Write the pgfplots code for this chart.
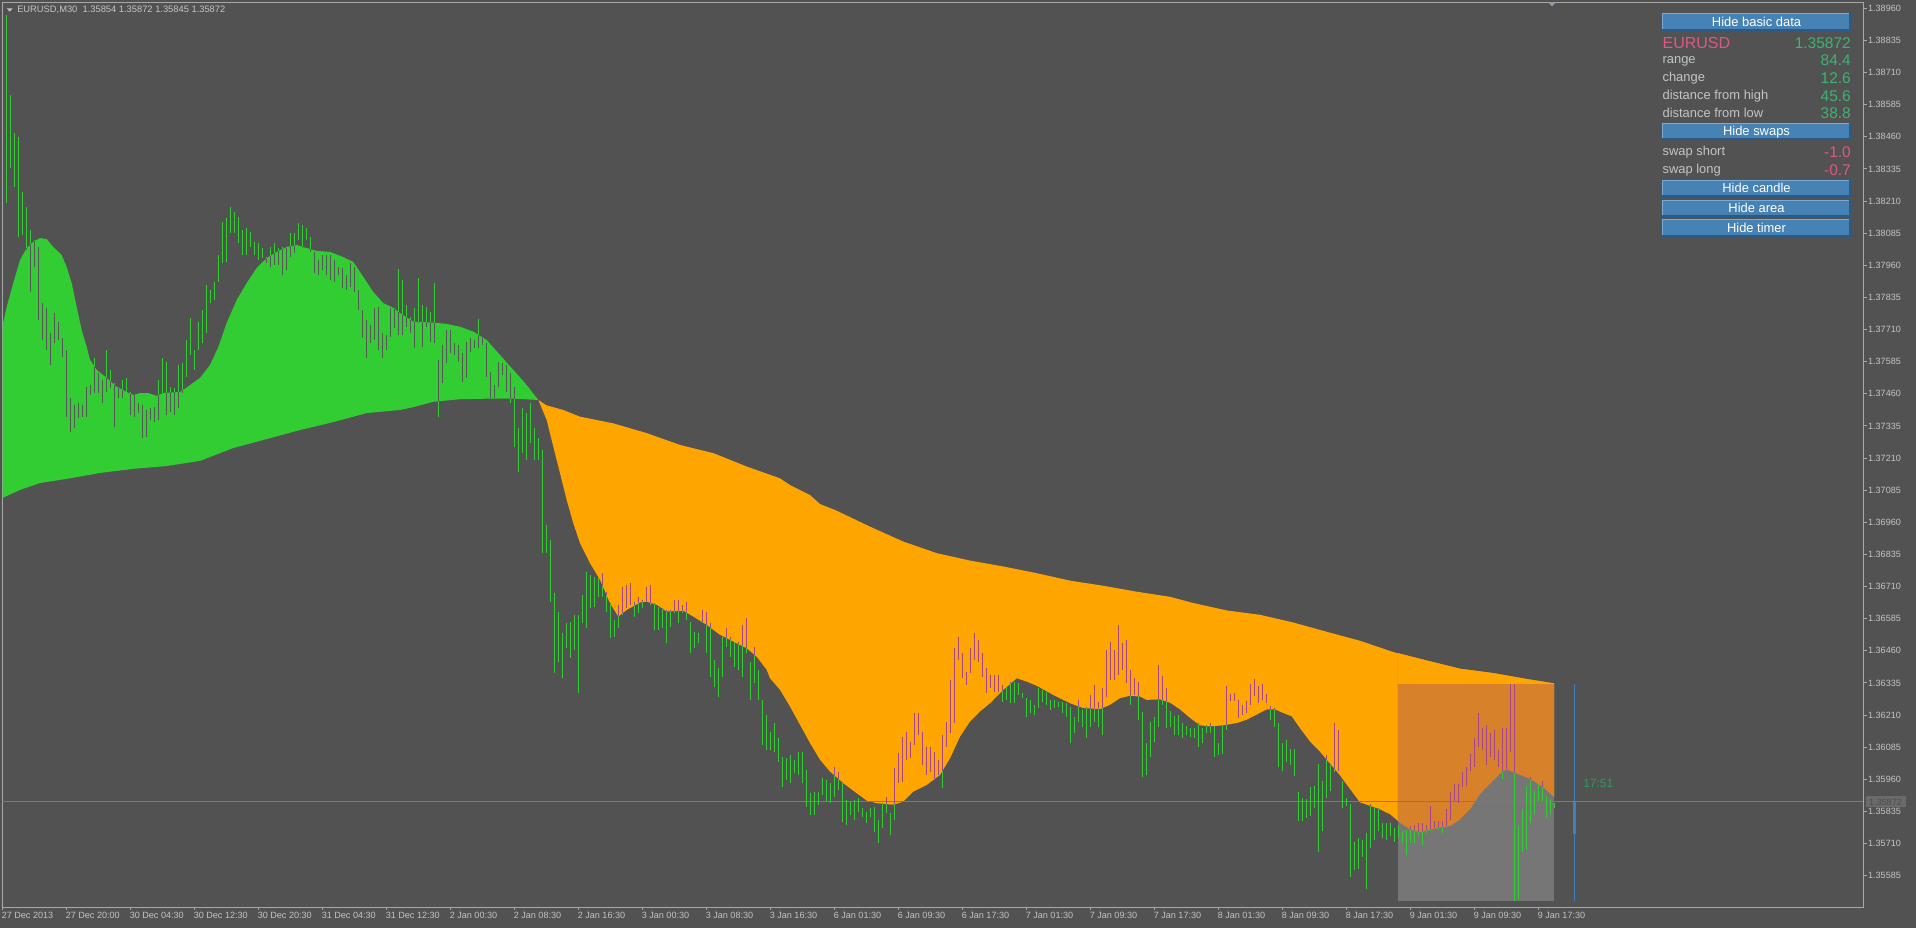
\documentclass[border=0pt]{standalone}
\usepackage{pgfplots}
\pgfplotsset{compat=1.18}
\usepackage{pgfplotstable}
\usepgfplotslibrary{fillbetween}
\usepackage{fontspec}
\setmainfont{Liberation Sans}
\definecolor{bg}{HTML}{525252}
\definecolor{frame}{HTML}{A8A8A8}
\definecolor{lbl}{HTML}{C4C4C4}
\definecolor{fillG}{HTML}{32CD32}
\definecolor{fillO}{HTML}{FFA500}
\definecolor{barG}{HTML}{32CD32}
\definecolor{barIn}{HTML}{575757}
\definecolor{barP}{HTML}{A8448E}
\definecolor{rectG}{HTML}{767676}
\definecolor{rectO}{HTML}{D7812A}
\definecolor{priceL}{HTML}{7A7A7A}
\definecolor{timerB}{HTML}{4080C0}
\definecolor{btn}{HTML}{4682B4}
\definecolor{btnHi}{HTML}{7AAAD6}
\definecolor{btnLo}{HTML}{2C5A86}
\definecolor{valG}{HTML}{3CB371}
\definecolor{valP}{HTML}{DB5A82}
\definecolor{markG}{HTML}{8A9AAA}
\pagecolor{bg}

% fast MA over the green (rising) zone
\pgfplotstableread{
k p
0 1.37728
1 1.37798
2.65 1.37891
4.33 1.37981
6 1.38027
7.65 1.38051
9.33 1.38066
11 1.38062
12.65 1.38031
14.75 1.38000
16 1.37953
17.25 1.37891
18.5 1.37798
19.75 1.37708
21 1.37642
21.83 1.37592
23.5 1.37553
26 1.37522
28.5 1.37487
31 1.37467
32.65 1.37455
34.33 1.37463
36.4 1.37463
38.5 1.37452
40.15 1.37463
44.33 1.37467
46.83 1.37494
49.33 1.37522
51.83 1.37572
53.9 1.37642
56 1.37736
58.5 1.37825
61 1.37891
63.5 1.37950
66 1.37988
68.5 1.38012
71 1.38031
73.5 1.38039
76 1.38027
78.5 1.38016
81.83 1.38012
85.15 1.37992
87.65 1.37973
90.15 1.37915
92.65 1.37856
95.15 1.37813
97.65 1.37794
99.33 1.37774
102.65 1.37741
107.65 1.37737
111 1.37732
114.33 1.37721
117.65 1.37702
121 1.37669
124.33 1.37611
127.65 1.37553
131 1.37494
133.9 1.37436
}\gfast
% slow MA over the green zone
\pgfplotstableread{
k p
0 1.37055
4.33 1.37086
9.33 1.37113
16 1.37129
24.33 1.37152
32.65 1.37168
41 1.37179
49.33 1.37199
57.65 1.37249
66 1.37284
74.33 1.37319
82.65 1.37350
91 1.37385
99.33 1.37397
102.65 1.37408
107.65 1.37429
114.33 1.37439
121 1.37441
127.65 1.37441
133.9 1.37436
}\gslow
% slow MA over the orange (falling) zone
\pgfplotstableread{
k p
133.9 1.37436
136 1.37415
140.15 1.37397
144.33 1.37371
152.65 1.37345
161 1.37307
169.33 1.37261
177.65 1.37229
186 1.37177
194.33 1.37131
196.83 1.37105
201.83 1.37066
204.33 1.37031
208.5 1.37005
216.83 1.36943
225.15 1.36885
233.5 1.36840
241.83 1.36811
250.15 1.36788
258.5 1.36762
266.83 1.36733
275.15 1.36713
283.5 1.36690
291.83 1.36670
297.65 1.36646
306 1.36617
314.33 1.36600
322.65 1.36570
331 1.36534
339.33 1.36499
347.65 1.36455
356 1.36422
364.33 1.36390
372.65 1.36373
381 1.36350
387.83 1.36333
}\oslow
% fast MA over the orange zone
\pgfplotstableread{
k p
133.9 1.37436
136 1.37358
137.65 1.37254
139.33 1.37151
141 1.37047
142.65 1.36956
144.33 1.36879
146.83 1.36801
149.33 1.36736
151.83 1.36645
153.9 1.36593
156 1.36619
159.33 1.36648
161 1.36651
163.5 1.36639
166 1.36613
170.15 1.36616
172.65 1.36593
176 1.36561
179.33 1.36522
182.65 1.36496
186 1.36470
188.5 1.36437
191 1.36386
191.83 1.36353
194.33 1.36308
196.83 1.36243
199.33 1.36172
201.83 1.36101
204.33 1.36036
206.83 1.35990
210.15 1.35945
213.5 1.35906
216 1.35877
218.5 1.35867
222.65 1.35861
225.15 1.35873
227.65 1.35912
231 1.35938
234.33 1.35977
236.83 1.36042
239.33 1.36126
241.83 1.36185
244.33 1.36224
246.83 1.36256
250.15 1.36308
253.5 1.36353
256 1.36340
258.5 1.36324
262.65 1.36288
266.83 1.36256
270.15 1.36237
274.33 1.36233
276.83 1.36250
279.33 1.36276
281.83 1.36285
284.33 1.36282
286 1.36269
289.33 1.36271
291.83 1.36258
294.33 1.36232
296.83 1.36199
299.33 1.36170
301.83 1.36166
305.15 1.36170
308.5 1.36179
311 1.36192
313.5 1.36212
316 1.36232
318.08 1.36232
320.15 1.36218
322.25 1.36205
324.33 1.36159
326.83 1.36107
329.33 1.36067
331.83 1.36021
334.33 1.35975
336.83 1.35922
339.33 1.35870
341.83 1.35857
344.33 1.35843
346.83 1.35824
349.33 1.35791
351.83 1.35765
354.33 1.35754
356.83 1.35765
359.33 1.35772
361.83 1.35778
364.33 1.35804
366.83 1.35843
369.33 1.35903
371.83 1.35942
374.33 1.35982
376 1.35999
378.5 1.35982
381.83 1.35962
385.15 1.35929
387.83 1.35890
}\ofast
% M30 bars: index, high, low
\pgfplotstableread{
k hi lo
1 1.38934 1.38202
2 1.38622 1.38338
3 1.38475 1.38265
4 1.38459 1.38070
5 1.38245 1.38078
6 1.38187 1.38019
7 1.38097 1.37856
8 1.38058 1.37953
9 1.38031 1.37747
10 1.37813 1.37669
11 1.37794 1.37630
12 1.37697 1.37572
13 1.37774 1.37658
14 1.37739 1.37669
15 1.37677 1.37603
16 1.37630 1.37370
17 1.37444 1.37312
18 1.37417 1.37327
19 1.37424 1.37366
20 1.37417 1.37370
21 1.37487 1.37370
22 1.37494 1.37455
23 1.37599 1.37463
24 1.37541 1.37463
25 1.37514 1.37424
26 1.37630 1.37467
27 1.37553 1.37483
28 1.37502 1.37331
29 1.37487 1.37444
30 1.37514 1.37444
31 1.37522 1.37467
32 1.37467 1.37378
33 1.37455 1.37370
34 1.37424 1.37385
35 1.37417 1.37288
36 1.37397 1.37292
37 1.37405 1.37358
38 1.37409 1.37350
39 1.37514 1.37358
40 1.37599 1.37463
41 1.37584 1.37378
42 1.37487 1.37389
43 1.37483 1.37378
44 1.37572 1.37405
45 1.37580 1.37463
46 1.37669 1.37525
47 1.37755 1.37611
48 1.37630 1.37553
49 1.37739 1.37630
50 1.37786 1.37658
51 1.37883 1.37697
52 1.37864 1.37813
53 1.37895 1.37825
54 1.38000 1.37895
55 1.38128 1.37969
56 1.38144 1.37973
57 1.38187 1.38086
58 1.38167 1.38086
59 1.38148 1.38047
60 1.38097 1.38000
61 1.38105 1.38000
62 1.38090 1.38031
63 1.38051 1.38000
64 1.38047 1.37981
65 1.38027 1.37988
66 1.37992 1.37969
67 1.38031 1.37953
68 1.38047 1.37961
69 1.38027 1.37961
70 1.38031 1.37922
71 1.38027 1.37942
72 1.38086 1.37992
73 1.38086 1.38008
74 1.38125 1.38058
75 1.38117 1.38027
76 1.38105 1.38058
77 1.38070 1.38012
78 1.38012 1.37930
79 1.37981 1.37922
80 1.38000 1.37942
81 1.38000 1.37922
82 1.38000 1.37903
83 1.37981 1.37895
84 1.37953 1.37922
85 1.37949 1.37872
86 1.37922 1.37864
87 1.37969 1.37876
88 1.37953 1.37856
89 1.37864 1.37786
90 1.37786 1.37677
91 1.37747 1.37599
92 1.37728 1.37658
93 1.37794 1.37669
94 1.37798 1.37630
95 1.37697 1.37599
96 1.37689 1.37630
97 1.37794 1.37681
98 1.37794 1.37716
99 1.37946 1.37689
100 1.37903 1.37689
101 1.37806 1.37720
102 1.37759 1.37697
103 1.37794 1.37638
104 1.37911 1.37736
105 1.37806 1.37642
106 1.37798 1.37720
107 1.37778 1.37662
108 1.37891 1.37658
109 1.37592 1.37370
110 1.37650 1.37502
111 1.37708 1.37580
112 1.37708 1.37619
113 1.37658 1.37611
114 1.37650 1.37584
115 1.37619 1.37506
116 1.37662 1.37522
117 1.37677 1.37623
118 1.37669 1.37638
119 1.37751 1.37638
120 1.37681 1.37650
121 1.37658 1.37525
122 1.37545 1.37444
123 1.37494 1.37444
124 1.37584 1.37487
125 1.37580 1.37533
126 1.37572 1.37467
127 1.37541 1.37424
128 1.37487 1.37253
129 1.37327 1.37156
130 1.37405 1.37230
131 1.37385 1.37203
132 1.37424 1.37269
133 1.37327 1.37203
134 1.37288 1.37203
135 1.37241 1.36841
136 1.36950 1.36841
137 1.36891 1.36650
138 1.36685 1.36374
139 1.36611 1.36417
140 1.36530 1.36355
141 1.36568 1.36471
142 1.36572 1.36432
143 1.36600 1.36463
144 1.36600 1.36296
145 1.36677 1.36568
146 1.36767 1.36549
147 1.36755 1.36627
148 1.36747 1.36631
149 1.36744 1.36670
150 1.36763 1.36670
151 1.36689 1.36611
152 1.36646 1.36510
153 1.36580 1.36514
154 1.36639 1.36549
155 1.36709 1.36600
156 1.36716 1.36627
157 1.36724 1.36639
158 1.36650 1.36592
159 1.36670 1.36607
160 1.36658 1.36627
161 1.36709 1.36650
162 1.36716 1.36639
163 1.36646 1.36541
164 1.36631 1.36541
165 1.36627 1.36549
166 1.36619 1.36491
167 1.36619 1.36553
168 1.36658 1.36607
169 1.36658 1.36568
170 1.36639 1.36607
171 1.36650 1.36580
172 1.36572 1.36452
173 1.36533 1.36471
174 1.36530 1.36491
175 1.36619 1.36568
176 1.36611 1.36452
177 1.36568 1.36358
178 1.36425 1.36320
179 1.36393 1.36281
180 1.36514 1.36358
181 1.36549 1.36475
182 1.36514 1.36436
183 1.36495 1.36397
184 1.36495 1.36386
185 1.36561 1.36358
186 1.36588 1.36452
187 1.36417 1.36269
188 1.36475 1.36335
189 1.36386 1.36269
190 1.36269 1.36094
191 1.36211 1.36074
192 1.36145 1.36074
193 1.36180 1.36067
194 1.36121 1.36028
195 1.36047 1.35931
196 1.36043 1.35958
197 1.36055 1.35946
198 1.36036 1.35985
199 1.36067 1.35977
200 1.36067 1.35946
201 1.35997 1.35853
202 1.35907 1.35822
203 1.35911 1.35822
204 1.35911 1.35861
205 1.35966 1.35899
206 1.35958 1.35872
207 1.35946 1.35868
208 1.36008 1.35892
209 1.35989 1.35919
210 1.35946 1.35794
211 1.35880 1.35783
212 1.35872 1.35822
213 1.35880 1.35802
214 1.35888 1.35833
215 1.35849 1.35814
216 1.35833 1.35791
217 1.35849 1.35814
218 1.35853 1.35756
219 1.35802 1.35713
220 1.35868 1.35771
221 1.35892 1.35829
222 1.35829 1.35744
223 1.36004 1.35802
224 1.36063 1.35946
225 1.36125 1.35950
226 1.36145 1.36036
227 1.36106 1.36043
228 1.36218 1.36094
229 1.36218 1.36133
230 1.36145 1.36016
231 1.36086 1.35977
232 1.36086 1.35989
233 1.36067 1.35958
234 1.36036 1.35977
235 1.36133 1.35927
236 1.36183 1.36086
237 1.36347 1.36141
238 1.36471 1.36180
239 1.36514 1.36425
240 1.36452 1.36355
241 1.36378 1.36327
242 1.36471 1.36374
243 1.36530 1.36425
244 1.36502 1.36417
245 1.36452 1.36358
246 1.36393 1.36296
247 1.36366 1.36316
248 1.36366 1.36300
249 1.36366 1.36300
250 1.36327 1.36261
251 1.36320 1.36269
252 1.36339 1.36257
253 1.36339 1.36257
254 1.36335 1.36288
255 1.36296 1.36277
256 1.36277 1.36203
257 1.36269 1.36218
258 1.36250 1.36211
259 1.36316 1.36238
260 1.36308 1.36261
261 1.36300 1.36250
262 1.36269 1.36230
263 1.36269 1.36238
264 1.36261 1.36242
265 1.36261 1.36218
266 1.36257 1.36203
267 1.36242 1.36102
268 1.36203 1.36141
269 1.36269 1.36183
270 1.36230 1.36164
271 1.36242 1.36121
272 1.36288 1.36164
273 1.36327 1.36183
274 1.36261 1.36164
275 1.36316 1.36133
276 1.36463 1.36281
277 1.36495 1.36347
278 1.36463 1.36347
279 1.36561 1.36366
280 1.36491 1.36386
281 1.36502 1.36335
282 1.36386 1.36250
283 1.36355 1.36288
284 1.36339 1.36191
285 1.36222 1.35969
286 1.36102 1.35977
287 1.36183 1.36047
288 1.36203 1.36106
289 1.36405 1.36164
290 1.36362 1.36250
291 1.36316 1.36160
292 1.36226 1.36164
293 1.36207 1.36133
294 1.36211 1.36133
295 1.36180 1.36121
296 1.36168 1.36133
297 1.36160 1.36125
298 1.36160 1.36121
299 1.36180 1.36086
300 1.36160 1.36102
301 1.36172 1.36141
302 1.36180 1.36141
303 1.36168 1.36047
304 1.36102 1.36055
305 1.36172 1.36059
306 1.36323 1.36152
307 1.36292 1.36265
308 1.36296 1.36265
309 1.36269 1.36199
310 1.36250 1.36211
311 1.36265 1.36218
312 1.36331 1.36250
313 1.36351 1.36285
314 1.36323 1.36257
315 1.36331 1.36269
316 1.36292 1.36257
317 1.36246 1.36191
318 1.36238 1.36164
319 1.36180 1.36008
320 1.36102 1.35993
321 1.36113 1.36028
322 1.36078 1.36016
323 1.36078 1.35973
324 1.35911 1.35798
325 1.35888 1.35798
326 1.35884 1.35810
327 1.35931 1.35818
328 1.35934 1.35849
329 1.36020 1.35678
330 1.35954 1.35759
331 1.36055 1.35888
332 1.36016 1.35915
333 1.36180 1.35989
334 1.36152 1.35993
335 1.35954 1.35849
336 1.35888 1.35857
337 1.35864 1.35580
338 1.35717 1.35608
339 1.35732 1.35612
340 1.35724 1.35658
341 1.35752 1.35534
342 1.35864 1.35693
343 1.35849 1.35724
344 1.35849 1.35759
345 1.35791 1.35732
346 1.35791 1.35724
347 1.35791 1.35740
348 1.35771 1.35717
349 1.35779 1.35732
350 1.35759 1.35713
351 1.35763 1.35666
352 1.35779 1.35713
353 1.35783 1.35713
354 1.35791 1.35744
355 1.35791 1.35705
356 1.35783 1.35752
357 1.35857 1.35759
358 1.35798 1.35771
359 1.35798 1.35763
360 1.35798 1.35752
361 1.35845 1.35771
362 1.35911 1.35802
363 1.35942 1.35876
364 1.35942 1.35868
365 1.35989 1.35931
366 1.36008 1.35934
367 1.36059 1.35993
368 1.36121 1.36008
369 1.36218 1.36086
370 1.36160 1.36074
371 1.36172 1.36016
372 1.36141 1.36047
373 1.36152 1.36036
374 1.36074 1.36008
375 1.36160 1.35962
376 1.36160 1.36001
377 1.36331 1.36067
378 1.36331 1.35487
379 1.35779 1.35495
380 1.35845 1.35678
381 1.35934 1.35685
382 1.35969 1.35791
383 1.35915 1.35826
384 1.35942 1.35876
385 1.35954 1.35876
386 1.35896 1.35810
387 1.35884 1.35826
388 1.35868 1.35849
}\bars

\pgfplotsset{
  geom/.style={at={(1.725pt,15.75pt)}, anchor=south west,
    width=1395.75pt, height=678.5pt, scale only axis,
    xmin=-0.1, xmax=465.15, ymin=1.354631, ymax=1.389833},
  barsty/.style={draw=none, mark=none, forget plot,
    error bars/.cd, y dir=minus, y explicit, error mark=none,
    error bar style={draw=#1, line width=0.75pt, solid}}}

\newcommand{\btn}[3]{%
  \fill[btn] (1662,#1) rectangle (1851,#2);
  \draw[btnHi, line width=0.75pt] (1662.4,#2) -- (1662.4,#1+0.4) -- (1851,#1+0.4);
  \draw[btnLo, line width=1.2pt] (1662,#2-0.8) -- (1850.2,#2-0.8) -- (1850.2,#1);
  \node[anchor=base, inner sep=0pt, text=white, font=\fontsize{9.7}{11}\selectfont] at (1756.5,#2-4) {#3};}

\begin{document}
\begin{tikzpicture}
\begin{axis}[geom,
  axis line style={frame, line width=0.75pt},
  xtick={0,16,...,384},
  xticklabels={27 Dec 2013,27 Dec 20:00,30 Dec 04:30,30 Dec 12:30,30 Dec 20:30,31 Dec 04:30,31 Dec 12:30,2 Jan 00:30,2 Jan 08:30,2 Jan 16:30,3 Jan 00:30,3 Jan 08:30,3 Jan 16:30,6 Jan 01:30,6 Jan 09:30,6 Jan 17:30,7 Jan 01:30,7 Jan 09:30,7 Jan 17:30,8 Jan 01:30,8 Jan 09:30,8 Jan 17:30,9 Jan 01:30,9 Jan 09:30,9 Jan 17:30},
  ytick={1.35585,1.35710,1.35835,1.35960,1.36085,1.36210,1.36335,1.36460,1.36585,1.36710,1.36835,1.36960,1.37085,1.37210,1.37335,1.37460,1.37585,1.37710,1.37835,1.37960,1.38085,1.38210,1.38335,1.38460,1.38585,1.38710,1.38835,1.38960},
  yticklabels={1.35585,1.35710,1.35835,1.35960,1.36085,1.36210,1.36335,1.36460,1.36585,1.36710,1.36835,1.36960,1.37085,1.37210,1.37335,1.37460,1.37585,1.37710,1.37835,1.37960,1.38085,1.38210,1.38335,1.38460,1.38585,1.38710,1.38835,1.38960},
  xtick pos=left, ytick pos=right, yticklabel pos=right,
  tick align=outside, major tick length=2.4pt,
  tick style={frame, line width=0.75pt},
  ticklabel style={font=\fontsize{6.8}{8}\selectfont, text=lbl},
  xticklabel style={anchor=north west, inner sep=0pt, xshift=-0.9pt, yshift=-1.2pt},
  yticklabel style={anchor=west, inner sep=0pt, xshift=1pt},
]
\addplot[draw=none, name path=gf, forget plot] table[x=k,y=p] {\gfast};
\addplot[draw=none, name path=gs, forget plot] table[x=k,y=p] {\gslow};
\addplot[draw=none, name path=os, forget plot] table[x=k,y=p] {\oslow};
\addplot[draw=none, name path=of, forget plot] table[x=k,y=p] {\ofast};
\addplot[draw=none, name path=rb, forget plot] coordinates {(348.75,1.35487) (387.85,1.35487)};
\addplot[draw=none, name path=rt, forget plot] coordinates {(348.75,1.36331) (387.85,1.36331)};
\addplot[fillG, draw=none] fill between[of=gf and gs];
\addplot[fillO, draw=none] fill between[of=os and of];
\addplot[rectG, draw=none] fill between[of=rt and rb];
\addplot[rectO, draw=none] fill between[of=os and of, soft clip={domain=348.75:387.85}];
\addplot[fillO, draw=none] fill between[of=os and rt, soft clip={domain=348.75:387.85}];
\addplot[priceL, line width=0.75pt, forget plot] coordinates {(-0.1,1.35872) (465.15,1.35872)};
\addplot[barsty=barG] table[x=k, y=hi, y error expr=\thisrow{hi}-\thisrow{lo}] {\bars};
\addplot[timerB, line width=0.75pt, forget plot] coordinates {(392.9,1.36331) (392.9,1.35487)};
\addplot[timerB, line width=2.4pt, forget plot] coordinates {(392.9,1.35870) (392.9,1.35747)};
\end{axis}

\begin{scope}
\clip[intersection segments={of=gf and gs, sequence={L* -- R*[reverse]}}];
\begin{axis}[geom, hide axis]
\addplot[barsty=barIn] table[x=k, y=hi, y error expr=\thisrow{hi}-\thisrow{lo}] {\bars};
\end{axis}
\end{scope}
\begin{scope}
\clip[intersection segments={of=os and of, sequence={L* -- R*[reverse]}}];
\begin{axis}[geom, hide axis]
\addplot[barsty=barP] table[x=k, y=hi, y error expr=\thisrow{hi}-\thisrow{lo}] {\bars};
\end{axis}
\end{scope}

\begin{scope}[shift={(0pt,696pt)}, x=0.75pt, y=-0.75pt]
  % title
  \fill[lbl] (6.7,8.3) -- (12.7,8.3) -- (9.7,11.7) -- cycle;
  \node[anchor=base west, inner sep=0pt, text=lbl, font=\fontsize{7}{8}\selectfont] at (17,12.7) {EURUSD,M30\ \ 1.35854 1.35872 1.35845 1.35872};
  \fill[markG] (1548,2.3) -- (1556,2.3) -- (1552,6.5) -- cycle;
  % panel
  \btn{13.3}{30.7}{Hide basic data}
  \node[anchor=base west, inner sep=0pt, text=valP, font=\fontsize{12}{14}\selectfont] at (1662.3,48.3) {EURUSD};
  \node[anchor=base east, inner sep=0pt, text=valG, font=\fontsize{11.6}{14}\selectfont] at (1851,48.3) {1.35872};
  \node[anchor=base west, inner sep=0pt, text=lbl, font=\fontsize{9.7}{11}\selectfont] at (1662.3,64) {range};
  \node[anchor=base east, inner sep=0pt, text=valG, font=\fontsize{11.6}{14}\selectfont] at (1851,66) {84.4};
  \node[anchor=base west, inner sep=0pt, text=lbl, font=\fontsize{9.7}{11}\selectfont] at (1662.3,81.7) {change};
  \node[anchor=base east, inner sep=0pt, text=valG, font=\fontsize{11.6}{14}\selectfont] at (1851,83.3) {12.6};
  \node[anchor=base west, inner sep=0pt, text=lbl, font=\fontsize{9.7}{11}\selectfont] at (1662.3,100) {distance from high};
  \node[anchor=base east, inner sep=0pt, text=valG, font=\fontsize{11.6}{14}\selectfont] at (1851,101.3) {45.6};
  \node[anchor=base west, inner sep=0pt, text=lbl, font=\fontsize{9.7}{11}\selectfont] at (1662.3,117.7) {distance from low};
  \node[anchor=base east, inner sep=0pt, text=valG, font=\fontsize{11.6}{14}\selectfont] at (1851,119) {38.8};
  \btn{123.3}{140}{Hide swaps}
  \node[anchor=base west, inner sep=0pt, text=lbl, font=\fontsize{9.7}{11}\selectfont] at (1662.3,155.7) {swap short};
  \node[anchor=base east, inner sep=0pt, text=valP, font=\fontsize{11.6}{14}\selectfont] at (1851,157.3) {-1.0};
  \node[anchor=base west, inner sep=0pt, text=lbl, font=\fontsize{9.7}{11}\selectfont] at (1662.3,174) {swap long};
  \node[anchor=base east, inner sep=0pt, text=valP, font=\fontsize{11.6}{14}\selectfont] at (1851,175.7) {-0.7};
  \btn{180}{196.7}{Hide candle}
  \btn{200}{216.7}{Hide area}
  \btn{219.3}{236.7}{Hide timer}
  % timer text
  \node[anchor=base west, inner sep=0pt, text=valG!85!black, font=\fontsize{9}{11}\selectfont] at (1583,787.3) {17:51};
  % current price label
  \fill[black!58] (1866,796.5) rectangle (1905.5,807.5);
  \node[anchor=west, inner sep=0pt, text=black!70, font=\fontsize{6.8}{8}\selectfont] at (1868.8,802) {1.35872};
\end{scope}
\pgfresetboundingbox
\path[use as bounding box] (0,0) rectangle (1437pt,696pt);
\end{tikzpicture}
\end{document}
